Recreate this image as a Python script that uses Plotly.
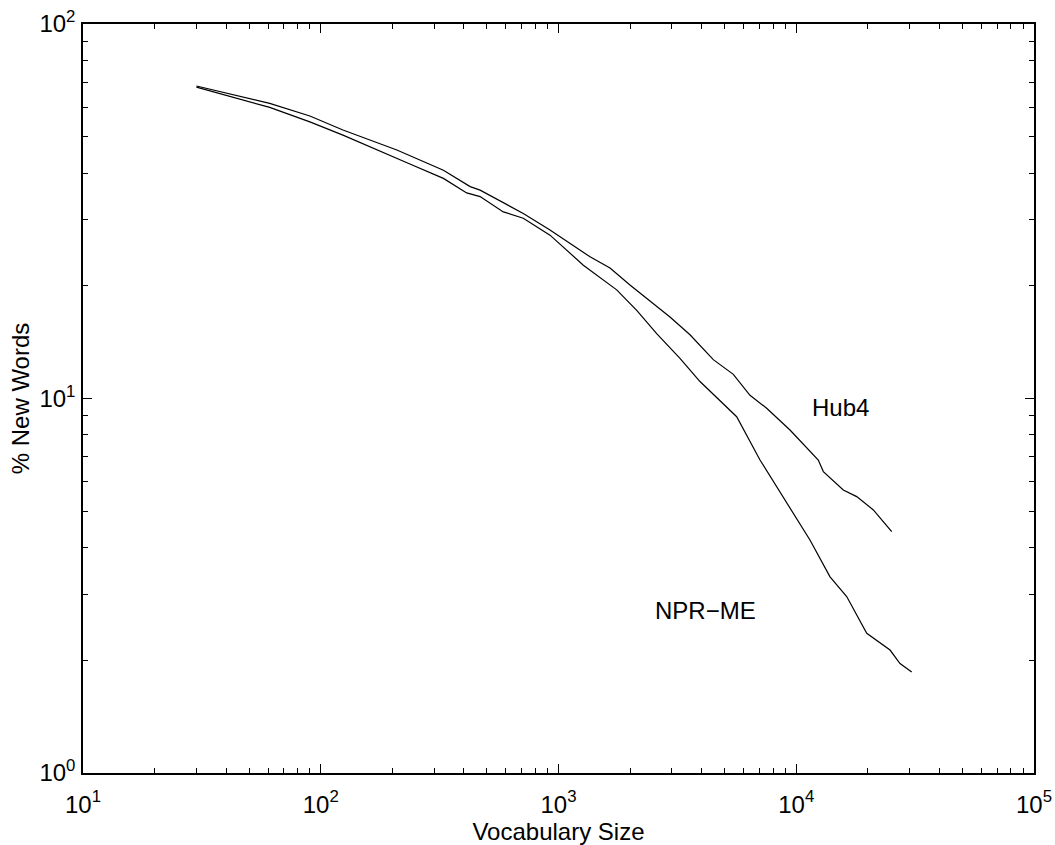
import plotly.graph_objects as go

# Vocabulary size vs. percentage of new (out-of-vocabulary) words
hub4_vocab = [30, 61, 90, 124, 209, 328, 425, 468, 711, 921, 1357, 1647, 1998,
              2944, 3573, 4478, 5436, 6389, 7510, 9412, 12380, 13000, 15770,
              17960, 21100, 25210]
hub4_pct = [68.3, 61.4, 56.8, 52.1, 46.1, 40.7, 36.8, 36.0, 31.2, 28.2, 23.9,
            22.3, 20.1, 16.5, 14.8, 12.7, 11.6, 10.2, 9.42, 8.24, 6.85, 6.38,
            5.70, 5.47, 5.04, 4.41]

npr_vocab = [30, 61, 90, 124, 237, 328, 411, 468, 586, 711, 921, 1272, 1757,
             2133, 2588, 3243, 3937, 5616, 7039, 9118, 11420, 13870, 16300,
             19790, 24800, 27320, 30590]
npr_pct = [67.8, 59.9, 54.8, 50.5, 42.3, 38.7, 35.4, 34.6, 31.5, 30.3, 27.3,
           22.7, 19.5, 17.2, 14.9, 12.8, 11.1, 8.94, 6.85, 5.25, 4.19, 3.34,
           2.96, 2.36, 2.13, 1.96, 1.86]

x_tickvals = [10, 100, 1000, 10000, 100000]
x_ticktext = ["10<sup>1</sup>", "10<sup>2</sup>", "10<sup>3</sup>",
              "10<sup>4</sup>", "10<sup>5</sup>"]
y_tickvals = [1, 10, 100]
y_ticktext = ["10<sup>0</sup>", "10<sup>1</sup>", "10<sup>2</sup>"]

FONT = "Liberation Sans, Arial, Helvetica, sans-serif"

fig = go.Figure()
fig.add_trace(go.Scatter(x=hub4_vocab, y=hub4_pct, mode="lines", name="Hub4",
                         line=dict(color="black", width=1.2)))
fig.add_trace(go.Scatter(x=npr_vocab, y=npr_pct, mode="lines", name="NPR-ME",
                         line=dict(color="black", width=1.2)))

axis_common = dict(
    type="log",
    automargin=False,
    showgrid=False,
    zeroline=False,
    showline=True,
    linecolor="black",
    linewidth=1.5,
    mirror="ticks",
    ticks="inside",
    ticklen=9,
    tickwidth=1,
    tickcolor="black",
    tickfont=dict(family=FONT, size=24, color="black"),
    minor=dict(ticks="inside", ticklen=5, tickwidth=1, tickcolor="black",
               dtick="D1", showgrid=False),
)

fig.update_xaxes(range=[1, 5], tickvals=x_tickvals, ticktext=x_ticktext,
                 title=dict(text="Vocabulary Size",
                            font=dict(family=FONT, size=24, color="black"),
                            standoff=0),
                 ticklabelstandoff=9,
                 **axis_common)
fig.update_yaxes(range=[0, 2], tickvals=y_tickvals, ticktext=y_ticktext,
                 title=dict(text="% New Words",
                            font=dict(family=FONT, size=24, color="black"),
                            standoff=3),
                 ticklabelstandoff=1,
                 **axis_common)

fig.add_annotation(x=4.188, y=0.975, xref="x", yref="y", text="Hub4",
                   showarrow=False,
                   font=dict(family=FONT, size=24, color="black"))
fig.add_annotation(x=3.62, y=0.435, xref="x", yref="y", text="NPR\u2212ME",
                   showarrow=False,
                   font=dict(family=FONT, size=24, color="black"))

fig.update_layout(
    width=1055, height=845,
    margin=dict(l=83, r=21, t=24, b=72),
    paper_bgcolor="white",
    plot_bgcolor="white",
    showlegend=False,
)

fig.write_html("out.html")
